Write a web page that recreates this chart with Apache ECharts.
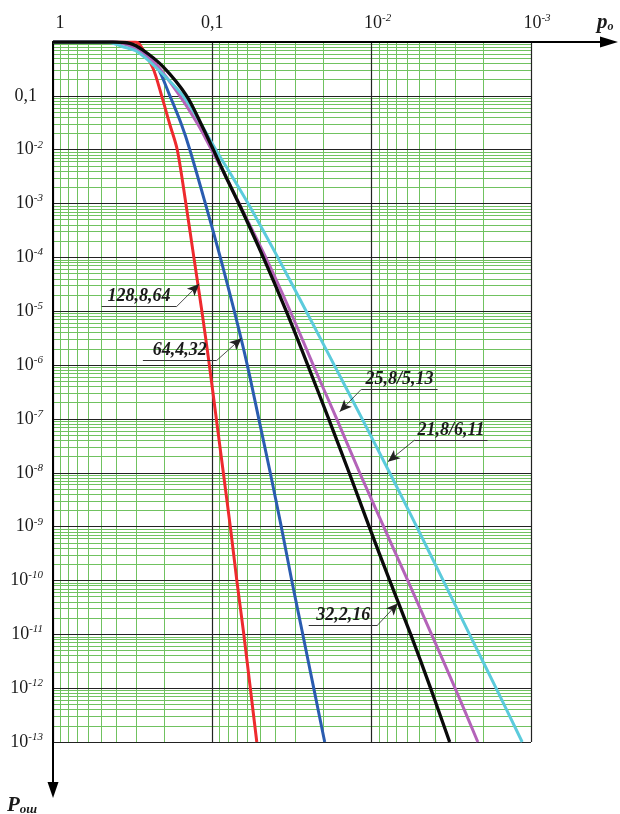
<!DOCTYPE html>
<html>
<head>
<meta charset="utf-8">
<title>P_ош (p_o)</title>
<script src="https://cdn.jsdelivr.net/npm/echarts@6/dist/echarts.min.js"></script>
<style>
  html, body { margin: 0; padding: 0; background: #fff; }
  #chart { width: 620px; height: 814px; }
</style>
</head>
<body>
<div id="chart"></div>
<script>
// tick labels, index = decade (10^-i)
const xTickLabels = [['1', ''], ['0,1', ''], ['10', '-2'], ['10', '-3']]
const yTickLabels = [['', ''], ['0,1', ''], ['10', '-2'], ['10', '-3'], ['10', '-4'], ['10', '-5'], ['10', '-6'],
  ['10', '-7'], ['10', '-8'], ['10', '-9'], ['10', '-10'], ['10', '-11'], ['10', '-12'], ['10', '-13']]
const mantissas = [2, 3, 4, 5, 6, 7, 8, 9]
const xDecades = [0.1, 0.01, 0.001]
const yDecades = [0.1, 0.01, 1e-3, 1e-4, 1e-5, 1e-6, 1e-7, 1e-8, 1e-9, 1e-10, 1e-11, 1e-12, 1e-13]

const curveNames = ['128,8,64', '64,4,32', '32,2,16', '25,8/5,13', '21,8/6,11']

// [p_o, P_ош]
const red = [[1, 1], [0.306, 1], [0.285, 0.89], [0.236, 0.329], [0.208, 0.1], [0.1846, 0.0291], [0.166, 0.01],
  [0.1466, 1e-3], [0.1306, 1e-4], [0.1163, 1e-5], [0.1044, 1e-6], [0.09439, 1e-7], [0.08531, 1e-8],
  [0.07712, 1e-9], [0.0702, 1e-10], [0.06346, 1e-11], [0.05777, 1e-12], [0.0526, 1e-13]]
const blue = [[1, 1], [0.42, 1], [0.32, 0.85], [0.26, 0.6], [0.2197, 0.329], [0.1846, 0.1], [0.156, 0.0291],
  [0.1384, 0.01], [0.1106, 1e-3], [0.08911, 1e-4], [0.07279, 1e-5], [0.06033, 1e-6],
  [0.0511, 1e-7], [0.04329, 1e-8], [0.03693, 1e-9], [0.03174, 1e-10], [0.02707, 1e-11], [0.0231, 1e-12], [0.01971, 1e-13]]
const black = [[1, 1], [0.42, 1], [0.33, 0.94], [0.273, 0.71], [0.204, 0.348], [0.145, 0.1], [0.117, 0.0291],
  [0.09856, 0.01], [0.0815, 2.98e-3], [0.06822, 1e-3], [0.04789, 1e-4], [0.03437, 1e-5], [0.02519, 1e-6],
  [0.01861, 1e-7], [0.01384, 1e-8], [0.01037, 1e-9], [0.00771, 1e-10], [0.00569, 1e-11], [0.00427, 1e-12], [0.00324, 1e-13]]
const magenta = [[1, 1], [0.42, 1], [0.34, 0.88], [0.28, 0.64], [0.224, 0.379], [0.16, 0.1], [0.1228, 0.0291],
  [0.1012, 0.01], [0.0815, 2.98e-3], [0.06792, 1e-3], [0.0462, 1e-4], [0.03243, 1e-5], [0.02327, 1e-6],
  [0.01657, 1e-7], [0.01189, 1e-8], [0.00841, 1e-9], [0.00594, 1e-10], [0.00421, 1e-11], [0.002996, 1e-12], [0.002156, 1e-13]]
const cyan = [[1, 1], [0.46, 1], [0.364, 0.818], [0.2986, 0.671], [0.224, 0.329], [0.1525, 0.1], [0.117, 0.0291],
  [0.0951, 0.01], [0.0741, 2.98e-3], [0.0596, 1e-3], [0.03884, 1e-4], [0.02575, 1e-5], [0.01718, 1e-6],
  [0.01147, 1e-7], [0.00771, 1e-8], [0.00522, 1e-9], [0.00356, 1e-10], [0.00243, 1e-11], [0.001657, 1e-12], [0.001136, 1e-13]]

// callouts: underline from -> to (text above it), then leader to the curve
const notes = [
  { text: curveNames[0], from: [0.495, 1.22e-5], to: [0.1677, 1.22e-5], tip: [0.121, 3.2e-5] },
  { text: curveNames[1], from: [0.2728, 1.21e-6], to: [0.0941, 1.21e-6], tip: [0.0656, 3.15e-6] },
  { text: curveNames[3], from: [0.0116, 3.56e-7], to: [0.003856, 3.56e-7], tip: [0.01587, 1.36e-7], leadFromStart: true },
  { text: curveNames[4], from: [0.005373, 4.06e-8], to: [0.001874, 4.06e-8], tip: [0.0079, 1.61e-8], leadFromStart: true },
  { text: curveNames[2], from: [0.02483, 1.49e-11], to: [0.00917, 1.49e-11], tip: [0.006841, 3.77e-11] }
]

const serif = 'Liberation Serif'
const ink = '#1a1a1a'
const tickRich = {
  b: { fontFamily: serif, fontSize: 18, color: ink, lineHeight: 22 },
  bl: { fontFamily: serif, fontSize: 18, color: ink, lineHeight: 22, padding: [0, 0, 0, 14] },
  br: { fontFamily: serif, fontSize: 18, color: ink, lineHeight: 22, padding: [0, 6, 0, 0] },
  bx: { fontFamily: serif, fontSize: 18, color: ink, lineHeight: 22, padding: [0, 0, 0, 12] },
  e: { fontFamily: serif, fontSize: 11, fontStyle: 'italic', color: ink, padding: [0, 0, 10, 0] }
}

const minorLines = []
xDecades.forEach(d => mantissas.forEach(m => minorLines.push({ xAxis: m * d })))
yDecades.forEach(d => mantissas.forEach(m => minorLines.push({ yAxis: m * d })))

function curve(name, data, color, width) {
  return {
    name: name,
    type: 'line',
    data: data,
    z: 4,
    showSymbol: false,
    smooth: 0.3,
    silent: true,
    lineStyle: { color: color, width: width }
  }
}

const chart = echarts.init(document.getElementById('chart'))

const option = {
  animation: false,
  backgroundColor: '#fff',
  grid: { left: 53, top: 42, width: 478, height: 700, containLabel: false, outerBoundsMode: 'none' },
  xAxis: {
    type: 'log',
    logBase: 10,
    position: 'top',
    inverse: true,
    min: 0.001,
    max: 1,
    interval: 1,
    z: 3,
    axisLine: { show: true, lineStyle: { color: '#000', width: 2 } },
    axisTick: { show: false },
    splitLine: { show: true, lineStyle: { color: '#222', width: 1.2 } },
    axisLabel: {
      margin: 8,
      showMinLabel: true,
      showMaxLabel: true,
      rich: tickRich,
      formatter: function(value) {
        const i = Math.round(-Math.log10(value))
        const t = xTickLabels[i]
        if (!t) return ''
        if (t[1]) return '{bx|' + t[0] + '}{e|' + t[1] + '}'
        return (i === 0 ? '{bl|' : '{b|') + t[0] + '}'
      }
    }
  },
  yAxis: {
    type: 'log',
    logBase: 10,
    min: 1e-13,
    max: 1,
    interval: 1,
    z: 3,
    axisLine: { show: true, lineStyle: { color: '#000', width: 2 } },
    axisTick: { show: false },
    splitLine: { show: true, lineStyle: { color: '#222', width: 1.2 } },
    axisLabel: {
      margin: 10,
      showMinLabel: true,
      rich: tickRich,
      formatter: function(value) {
        const i = Math.round(-Math.log10(value))
        const t = yTickLabels[i]
        if (!t || !t[0]) return ''
        if (t[1]) return '{b|' + t[0] + '}{e|' + t[1] + '}'
        return '{br|' + t[0] + '}'
      }
    }
  },
  graphic: [
    { type: 'line', shape: { x1: 531, y1: 42, x2: 604, y2: 42 }, style: { stroke: '#000', lineWidth: 2 } },
    { type: 'polygon', shape: { points: [[618, 42], [600, 36.5], [600, 47.5]] }, style: { fill: '#000' } },
    { type: 'line', shape: { x1: 53, y1: 742, x2: 53, y2: 786 }, style: { stroke: '#000', lineWidth: 2 } },
    { type: 'polygon', shape: { points: [[53, 798], [47.5, 782], [58.5, 782]] }, style: { fill: '#000' } },
    {
      type: 'text', x: 597, y: 23,
      style: {
        text: '{p|p}{s|o}', verticalAlign: 'middle',
        rich: {
          p: { fontFamily: serif, fontSize: 21, fontStyle: 'italic', fontWeight: 'bold', fill: ink },
          s: { fontFamily: serif, fontSize: 12, fontStyle: 'italic', fontWeight: 'bold', fill: ink, padding: [7, 0, 0, 0] }
        }
      }
    },
    {
      type: 'text', x: 7, y: 806,
      style: {
        text: '{p|P}{s|ош}', verticalAlign: 'middle',
        rich: {
          p: { fontFamily: serif, fontSize: 21, fontStyle: 'italic', fontWeight: 'bold', fill: ink },
          s: { fontFamily: serif, fontSize: 13, fontStyle: 'italic', fontWeight: 'bold', fill: ink, padding: [8, 0, 0, 0] }
        }
      }
    }
  ],
  series: [
    {
      name: 'minor-grid',
      type: 'line',
      data: [],
      z: 1,
      silent: true,
      markLine: {
        z: 1,
        silent: true,
        animation: false,
        precision: 20,
        symbol: ['none', 'none'],
        label: { show: false },
        lineStyle: { color: '#70c260', width: 1, type: 'solid' },
        emphasis: { disabled: true },
        data: minorLines
      }
    },
    curve(curveNames[0], red, '#ee2a2e', 3),
    curve(curveNames[1], blue, '#2a5cb0', 3),
    curve(curveNames[3], magenta, '#b463b9', 3),
    curve(curveNames[4], cyan, '#5ccbdc', 3),
    curve(curveNames[2], black, '#0a0a0a', 3.3),
    {
      name: 'underlines',
      type: 'line',
      data: [],
      z: 5,
      silent: true,
      markLine: {
        z: 5,
        silent: true,
        animation: false,
        symbol: ['none', 'none'],
        lineStyle: { color: '#333', width: 1, type: 'solid' },
        emphasis: { disabled: true },
        label: {
          show: true,
          position: 'insideMiddleTop',
          distance: 1,
          formatter: '{b}',
          fontFamily: serif,
          fontStyle: 'italic',
          fontWeight: 'bold',
          fontSize: 18,
          color: ink
        },
        data: notes.map(n => [{ name: n.text, coord: n.from }, { coord: n.to }])
      }
    },
    {
      name: 'leaders',
      type: 'line',
      data: [],
      z: 5,
      silent: true,
      markLine: {
        z: 5,
        silent: true,
        animation: false,
        symbol: ['none', 'arrow'],
        symbolSize: [8, 12],
        label: { show: false },
        lineStyle: { color: '#222', width: 0.8, type: 'solid' },
        itemStyle: { color: '#111' },
        emphasis: { disabled: true },
        data: notes.map(n => [{ coord: n.leadFromStart ? n.from : n.to }, { coord: n.tip }])
      }
    }
  ]
}

chart.setOption(option)
</script>
</body>
</html>
